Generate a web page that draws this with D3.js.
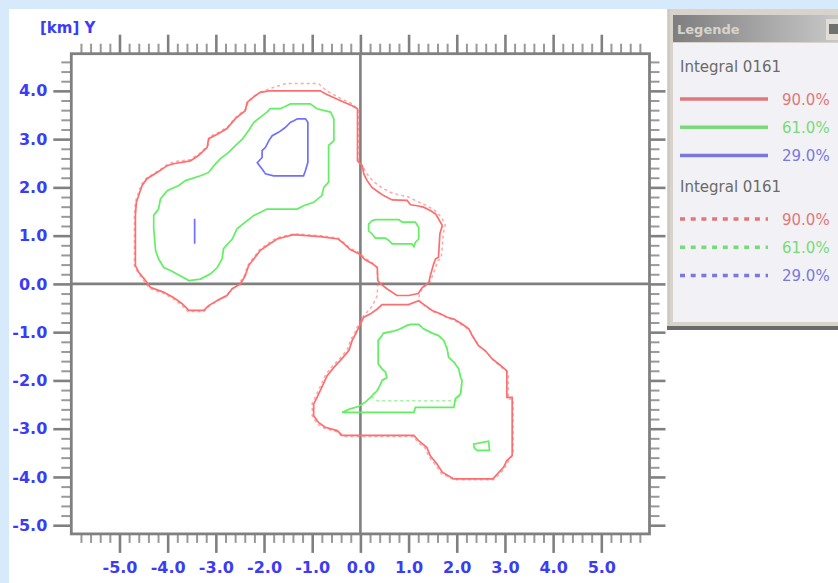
<!DOCTYPE html>
<html>
<head>
<meta charset="utf-8">
<script src="https://cdn.jsdelivr.net/npm/d3@7"></script>
<style>
body { margin: 0; background: #d6eafb; }
svg { display: block; font-family: "DejaVu Sans", sans-serif; }
</style>
</head>
<body>
<script>
// tick values + labels
var xMajor = [-5, -4, -3, -2, -1, 0, 1, 2, 3, 4, 5];
var xTickLabels = ["-5.0", "-4.0", "-3.0", "-2.0", "-1.0", "0.0", "1.0", "2.0", "3.0", "4.0", "5.0"];
var yMajor = [-5, -4, -3, -2, -1, 0, 1, 2, 3, 4];
var yTickLabels = ["-5.0", "-4.0", "-3.0", "-2.0", "-1.0", "0.0", "1.0", "2.0", "3.0", "4.0"];

// legend
var legendGroups = ["Integral 0161", "Integral 0161"];
var levelLabels = ["90.0%", "61.0%", "29.0%"];

// contour rings, [x km, y km]
var red90Upper = [[-1.89,4.0],[-0.83,4.0],[-0.73,3.94],[-0.42,3.8],[-0.17,3.69],[-0.06,3.63],[-0.06,2.55],[0.04,2.45],[0.07,2.28],[0.14,2.14],[0.24,2.0],[0.38,1.9],[0.48,1.83],[0.66,1.74],[0.97,1.73],[1.04,1.64],[1.18,1.62],[1.31,1.59],[1.45,1.52],[1.56,1.45],[1.62,1.35],[1.7,1.21],[1.65,1.04],[1.62,0.55],[1.56,0.52],[1.52,0.41],[1.45,0.17],[1.42,0.03],[1.28,-0.08],[1.2,-0.2],[1.0,-0.24],[0.76,-0.24],[0.55,-0.1],[0.42,0.0],[0.36,0.07],[0.35,0.34],[0.25,0.42],[0.1,0.5],[-0.04,0.63],[-0.21,0.71],[-0.35,0.84],[-0.46,0.93],[-0.83,0.98],[-1.39,1.02],[-1.73,0.93],[-1.94,0.79],[-2.08,0.69],[-2.21,0.52],[-2.32,0.38],[-2.39,0.17],[-2.49,0.0],[-2.66,-0.1],[-2.77,-0.24],[-2.91,-0.31],[-3.15,-0.45],[-3.25,-0.55],[-3.56,-0.55],[-3.7,-0.41],[-3.88,-0.28],[-4.09,-0.17],[-4.36,-0.07],[-4.46,0.07],[-4.6,0.24],[-4.67,0.38],[-4.67,1.42],[-4.65,1.69],[-4.53,2.04],[-4.43,2.18],[-4.22,2.31],[-4.01,2.45],[-3.88,2.49],[-3.53,2.55],[-3.36,2.66],[-3.18,2.83],[-3.15,3.01],[-2.95,3.11],[-2.77,3.22],[-2.59,3.43],[-2.39,3.59],[-2.35,3.76],[-2.22,3.87],[-2.08,3.97]];
var red90Lower = [[0.45,-0.43],[1.0,-0.43],[1.21,-0.35],[1.35,-0.45],[1.49,-0.55],[1.66,-0.62],[1.8,-0.69],[1.94,-0.73],[2.11,-0.83],[2.25,-0.93],[2.32,-1.07],[2.45,-1.28],[2.59,-1.38],[2.73,-1.55],[2.91,-1.69],[3.04,-1.8],[3.04,-2.35],[3.15,-2.35],[3.15,-3.56],[3.04,-3.66],[2.97,-3.8],[2.84,-3.94],[2.75,-4.04],[1.94,-4.04],[1.7,-3.9],[1.59,-3.73],[1.45,-3.56],[1.38,-3.39],[1.21,-3.25],[1.11,-3.14],[-0.38,-3.14],[-0.48,-3.04],[-0.73,-2.97],[-0.87,-2.87],[-0.97,-2.73],[-0.97,-2.49],[-0.9,-2.35],[-0.8,-2.14],[-0.69,-1.9],[-0.55,-1.73],[-0.42,-1.59],[-0.24,-1.38],[-0.17,-1.17],[-0.1,-1.04],[0.0,-0.83],[0.07,-0.69],[0.21,-0.62],[0.35,-0.52]];
var green61Upper = [[-1.87,3.63],[-1.66,3.63],[-1.45,3.73],[-1.04,3.73],[-0.9,3.63],[-0.62,3.56],[-0.55,3.42],[-0.55,2.97],[-0.66,2.87],[-0.66,2.11],[-0.76,2.0],[-0.8,1.83],[-0.97,1.69],[-1.18,1.62],[-1.31,1.55],[-1.94,1.55],[-2.08,1.48],[-2.21,1.42],[-2.39,1.28],[-2.56,1.14],[-2.66,0.93],[-2.84,0.73],[-2.87,0.52],[-2.97,0.34],[-3.11,0.21],[-3.32,0.1],[-3.56,0.07],[-3.74,0.17],[-3.94,0.28],[-4.08,0.34],[-4.19,0.52],[-4.25,0.69],[-4.29,1.14],[-4.29,1.42],[-4.19,1.55],[-4.15,1.76],[-4.01,1.93],[-3.77,2.04],[-3.63,2.14],[-3.32,2.24],[-3.15,2.31],[-3.04,2.45],[-2.91,2.59],[-2.73,2.73],[-2.59,2.87],[-2.45,3.0],[-2.32,3.18],[-2.21,3.35],[-2.08,3.45],[-1.94,3.56]];
var green61Right = [[0.24,1.31],[0.31,1.33],[0.8,1.33],[0.87,1.28],[1.14,1.28],[1.21,1.17],[1.21,0.93],[1.14,0.86],[1.11,0.77],[1.07,0.83],[0.66,0.83],[0.59,0.9],[0.52,0.95],[0.31,0.95],[0.24,1.04],[0.17,1.1],[0.17,1.24]];
var green61Lower = [[0.97,-0.86],[1.04,-0.84],[1.21,-0.84],[1.31,-0.93],[1.49,-1.02],[1.62,-1.07],[1.73,-1.17],[1.8,-1.35],[1.83,-1.52],[1.94,-1.62],[2.04,-1.76],[2.08,-1.94],[2.11,-2.0],[2.08,-2.28],[1.97,-2.38],[1.94,-2.56],[1.14,-2.56],[1.11,-2.66],[-0.38,-2.66],[-0.21,-2.59],[-0.04,-2.54],[0.1,-2.45],[0.21,-2.35],[0.35,-2.21],[0.42,-2.07],[0.45,-2.0],[0.55,-1.94],[0.52,-1.83],[0.45,-1.76],[0.37,-1.66],[0.37,-1.17],[0.45,-1.07],[0.48,-1.02],[0.69,-0.98],[0.83,-0.93]];
var green61Small = [[2.35,-3.32],[2.66,-3.26],[2.68,-3.45],[2.42,-3.45],[2.36,-3.39]];
var blue29Upper = [[-1.31,3.42],[-1.14,3.42],[-1.09,3.35],[-1.09,2.52],[-1.14,2.35],[-1.18,2.24],[-1.8,2.24],[-1.97,2.28],[-2.04,2.38],[-2.14,2.51],[-2.04,2.62],[-2.04,2.76],[-1.97,2.83],[-1.9,2.97],[-1.83,3.07],[-1.7,3.14],[-1.56,3.24],[-1.45,3.35],[-1.38,3.38]];
var blue29Stub = [[-3.44,1.35],[-3.44,0.83]];

// second integral (dotted), where it differs from the first
var red90bLoop = [[-2.08,3.97],[-1.9,4.04],[-1.55,4.15],[-0.87,4.15],[-0.7,4.0],[-0.4,3.84],[-0.15,3.72],[-0.04,3.6],[-0.03,2.52],[0.06,2.42],[0.12,2.3],[0.2,2.2],[0.3,2.1],[0.45,1.99],[0.62,1.9],[0.78,1.85],[1.0,1.8],[1.2,1.7],[1.38,1.62],[1.55,1.52],[1.68,1.38],[1.76,1.22],[1.72,1.04],[1.68,0.55],[1.6,0.47],[1.55,0.3],[1.45,0.05],[1.3,-0.08],[1.22,-0.2],[1.22,-0.35],[1.35,-0.47],[1.5,-0.57],[1.68,-0.64],[1.82,-0.7],[1.96,-0.76],[2.12,-0.86],[2.27,-0.96],[2.34,-1.1],[2.48,-1.3],[2.62,-1.42],[2.76,-1.58],[2.93,-1.73],[3.07,-1.84],[3.07,-2.38],[3.17,-2.4],[3.17,-3.52],[3.08,-3.66],[2.98,-3.84],[2.86,-3.97],[2.75,-4.06],[1.94,-4.06],[1.68,-3.93],[1.56,-3.75],[1.42,-3.58],[1.35,-3.41],[1.18,-3.27],[1.1,-3.16],[-0.38,-3.16],[-0.5,-3.06],[-0.75,-2.99],[-0.9,-2.9],[-1.0,-2.73],[-1.0,-2.47],[-0.93,-2.33],[-0.83,-2.12],[-0.72,-1.88],[-0.58,-1.7],[-0.45,-1.57],[-0.27,-1.36],[-0.2,-1.15],[-0.12,-1.02],[-0.03,-0.81],[0.07,-0.66],[0.24,-0.47],[0.35,-0.24],[0.36,0.07],[0.35,0.34],[0.24,0.44],[0.1,0.53],[-0.04,0.66],[-0.21,0.74],[-0.35,0.86],[-0.46,0.95],[-0.83,1.0],[-1.39,1.04],[-1.75,0.95],[-1.96,0.81],[-2.1,0.7],[-2.23,0.53],[-2.34,0.38],[-2.41,0.17],[-2.52,0.0],[-2.68,-0.12],[-2.79,-0.26],[-2.93,-0.33],[-3.15,-0.47],[-3.25,-0.57],[-3.58,-0.57],[-3.72,-0.43],[-3.9,-0.3],[-4.1,-0.19],[-4.38,-0.09],[-4.49,0.06],[-4.62,0.24],[-4.69,0.38],[-4.69,1.42],[-4.67,1.7],[-4.55,2.06],[-4.43,2.2],[-4.2,2.34],[-4.0,2.48],[-3.86,2.53],[-3.53,2.58],[-3.34,2.7],[-3.16,2.87],[-3.13,3.05],[-2.93,3.15],[-2.75,3.26],[-2.57,3.47],[-2.37,3.63],[-2.32,3.8],[-2.2,3.9]];
var green61bLower = [[0.97,-0.86],[1.04,-0.84],[1.21,-0.84],[1.31,-0.93],[1.49,-1.02],[1.62,-1.07],[1.73,-1.17],[1.8,-1.35],[1.83,-1.52],[1.94,-1.62],[2.04,-1.76],[2.08,-1.94],[2.11,-2.0],[2.08,-2.28],[2.0,-2.42],[0.35,-2.42],[0.22,-2.33],[0.35,-2.2],[0.42,-2.07],[0.45,-2.0],[0.55,-1.94],[0.52,-1.83],[0.45,-1.76],[0.37,-1.66],[0.37,-1.17],[0.45,-1.07],[0.48,-1.02],[0.69,-0.98],[0.83,-0.93]];

var colors = ["#ff6e6e", "#62f062", "#7070ff"];
var legendColors = ["#e07878", "#78da78", "#7878de"];

var w = 838, h = 583;
var svg = d3.select("body").append("svg").attr("width", w).attr("height", h);

svg.append("rect").attr("width", w).attr("height", h).attr("fill", "#d6eafb");
svg.append("rect").attr("x", 9).attr("y", 9).attr("width", w - 9).attr("height", h - 9).attr("fill", "#ffffff");

var plot = {left: 71.3, top: 53.7, right: 649.5, bottom: 533.9};
var x = d3.scaleLinear().domain([-6, 6]).range([plot.left, plot.right]);
var y = d3.scaleLinear().domain([-5.18, 4.77]).range([plot.bottom, plot.top]);

// minor tick positions every 0.2
var xMinor = d3.range(-29, 30).map(function (k) { return k * 0.2; })
    .filter(function (d) { return Math.abs(d - Math.round(d)) > 0.01; });
var yMinor = d3.range(-25, 25).map(function (k) { return k * 0.2; })
    .filter(function (d) { return Math.abs(d - Math.round(d)) > 0.01 && d <= 4.8; });

function styleAxis(g, width, color) {
    g.select(".domain").remove();
    g.selectAll(".tick line").attr("stroke", color).attr("stroke-width", width);
}

function addAxis(fn, scale, ticks, size, tx, ty, labels, pad) {
    var a = fn(scale).tickValues(ticks).tickSize(size).tickSizeOuter(0)
        .tickFormat(labels ? function (d, i) { return labels[i]; } : "");
    if (pad) a.tickPadding(pad);
    var g = svg.append("g").attr("transform", "translate(" + tx + "," + ty + ")").call(a);
    return g;
}

// minor ticks
styleAxis(addAxis(d3.axisTop, x, xMinor, 10, 0, plot.top), 2, "#999999");
styleAxis(addAxis(d3.axisBottom, x, xMinor, 9, 0, plot.bottom), 2, "#999999");
styleAxis(addAxis(d3.axisLeft, y, yMinor, 10, plot.left, 0), 2, "#999999");
styleAxis(addAxis(d3.axisRight, y, yMinor, 10, plot.right, 0), 2, "#999999");

// major ticks
styleAxis(addAxis(d3.axisTop, x, xMajor, 19, 0, plot.top), 2.6, "#808080");
var xb = addAxis(d3.axisBottom, x, xMajor, 19, 0, plot.bottom, xTickLabels, 9);
styleAxis(xb, 2.6, "#808080");
var yl = addAxis(d3.axisLeft, y, yMajor, 18, plot.left, 0, yTickLabels, 6);
styleAxis(yl, 2.6, "#808080");
styleAxis(addAxis(d3.axisRight, y, yMajor, 16, plot.right, 0), 2.6, "#808080");

svg.selectAll(".tick text")
    .attr("fill", "#3c3cf4")
    .style("font-family", "'DejaVu Sans', sans-serif")
    .style("font-weight", "bold")
    .style("font-size", "16px");

// zero lines + frame
svg.append("line").attr("x1", x(0)).attr("x2", x(0)).attr("y1", plot.top).attr("y2", plot.bottom)
    .attr("stroke", "#808080").attr("stroke-width", 2.6);
svg.append("line").attr("x1", plot.left).attr("x2", plot.right).attr("y1", y(0)).attr("y2", y(0))
    .attr("stroke", "#808080").attr("stroke-width", 2.6);
svg.append("rect").attr("x", plot.left).attr("y", plot.top)
    .attr("width", plot.right - plot.left).attr("height", plot.bottom - plot.top)
    .attr("fill", "none").attr("stroke", "#808080").attr("stroke-width", 2.8);

svg.append("text").attr("x", 40).attr("y", 33).text("[km] Y")
    .attr("fill", "#3c3cf4").style("font-weight", "bold").style("font-size", "15px");

// contours
svg.append("clipPath").attr("id", "clip").append("rect")
    .attr("x", plot.left).attr("y", plot.top)
    .attr("width", plot.right - plot.left).attr("height", plot.bottom - plot.top);

var ringLine = d3.line().x(function (d) { return x(d[0]); }).y(function (d) { return y(d[1]); })
    .curve(d3.curveLinearClosed);
var stubLine = d3.line().x(function (d) { return x(d[0]); }).y(function (d) { return y(d[1]); });

var cg = svg.append("g").attr("clip-path", "url(#clip)");

var solidSets = [
    {c: 0, rings: [red90Upper, red90Lower]},
    {c: 1, rings: [green61Upper, green61Right, green61Lower, green61Small]},
    {c: 2, rings: [blue29Upper]}
];
var dottedSets = [
    {c: 0, rings: [red90bLoop]},
    {c: 1, rings: [green61bLower]}
];

solidSets.forEach(function (s) {
    cg.selectAll(null).data(s.rings).enter().append("path")
        .attr("d", function (d) { return ringLine(d); }).attr("fill", "none")
        .attr("stroke", colors[s.c]).attr("stroke-width", 1.7);
});
cg.append("path").attr("d", stubLine(blue29Stub)).attr("fill", "none")
    .attr("stroke", colors[2]).attr("stroke-width", 1.7);
dottedSets.forEach(function (s) {
    cg.selectAll(null).data(s.rings).enter().append("path")
        .attr("d", function (d) { return ringLine(d); }).attr("fill", "none")
        .attr("stroke", colors[s.c]).attr("stroke-opacity", 0.6)
        .attr("stroke-width", 1.5).attr("stroke-dasharray", "3,3");
});

// legend window
var lg = svg.append("g");
var grad = svg.append("defs").append("linearGradient").attr("id", "tbar");
grad.append("stop").attr("offset", "0%").attr("stop-color", "#7e7e7e");
grad.append("stop").attr("offset", "100%").attr("stop-color", "#c8c8c8");

lg.append("rect").attr("x", 667).attr("y", 9).attr("width", 171).attr("height", 318).attr("fill", "#d8d4cc");
lg.append("line").attr("x1", 669).attr("x2", 669).attr("y1", 9).attr("y2", 327).attr("stroke", "#c4c0b8").attr("stroke-width", 1);
lg.append("rect").attr("x", 673).attr("y", 15).attr("width", 165).attr("height", 27).attr("fill", "url(#tbar)");
lg.append("text").attr("x", 677).attr("y", 34).text("Legende")
    .attr("fill", "#d8d4cc").style("font-size", "13px").style("font-weight", "bold");
lg.append("rect").attr("x", 826).attr("y", 19).attr("width", 12).attr("height", 21).attr("fill", "#e0ddd6");
lg.append("rect").attr("x", 829).attr("y", 24).attr("width", 9).attr("height", 10).attr("fill", "#707070");
lg.append("rect").attr("x", 673).attr("y", 43).attr("width", 165).attr("height", 279).attr("fill", "#f2f2f6");
lg.append("rect").attr("x", 667).attr("y", 326).attr("width", 171).attr("height", 4).attr("fill", "#6a6a6a");

legendGroups.forEach(function (name, gi) {
    var y0 = 72 + gi * 120;
    lg.append("text").attr("x", 680).attr("y", y0).text(name)
        .attr("fill", "#6a6a6a").style("font-size", "15px");
    levelLabels.forEach(function (lab, li) {
        var ly = y0 + 27 + li * 28.3;
        lg.append("line").attr("x1", 680).attr("x2", 768).attr("y1", ly).attr("y2", ly)
            .attr("stroke", legendColors[li]).attr("stroke-width", 3.5)
            .attr("stroke-dasharray", gi === 1 ? "5,5.7" : null);
        lg.append("text").attr("x", 782).attr("y", ly + 5.5).text(lab)
            .attr("fill", legendColors[li]).style("font-size", "15px");
    });
});
</script>
</body>
</html>
